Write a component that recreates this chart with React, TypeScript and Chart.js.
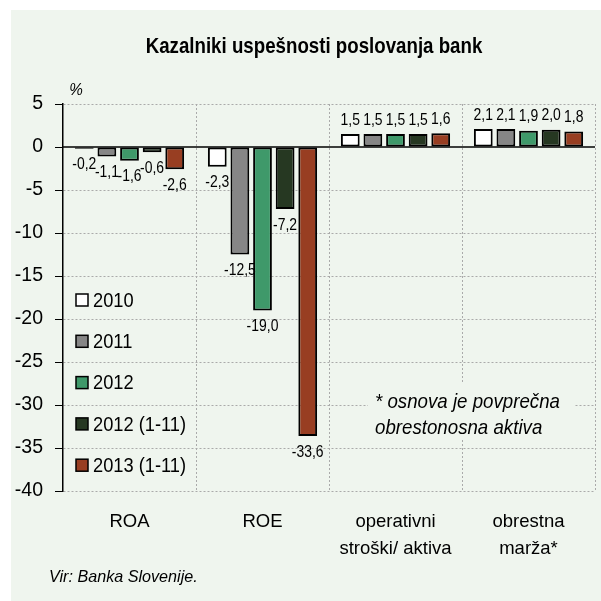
import React, { useEffect, useRef } from "react";
import { Chart, registerables } from "chart.js";

Chart.register(...registerables);

const categories: (string | string[])[] = ["ROA", "ROE", ["operativni", "stroški/ aktiva"], ["obrestna", "marža*"]];
const seriesNames = ["2010", "2011", "2012", "2012 (1-11)", "2013 (1-11)"];
const values2010 = [-0.2, -2.3, 1.5, 2.1];
const values2011 = [-1.1, -12.5, 1.5, 2.1];
const values2012 = [-1.6, -19.0, 1.5, 1.9];
const values2012p = [-0.6, -7.2, 1.5, 2.0];
const values2013p = [-2.6, -33.6, 1.6, 1.8];
const seriesColors = ["#ffffff", "#868686", "#3f996a", "#263822", "#983e22"];
const yMin = -40;
const yMax = 5;
const yStep = 5;

const titleText = "Kazalniki uspešnosti poslovanja bank";
const unitText = "%";
const noteLines = ["* osnova je povprečna", "obrestonosna aktiva"];
const sourceText = "Vir: Banka Slovenije.";

const FONT = "'Liberation Sans', Arial, sans-serif";
const BG = "#eff5ee";

function drawText(ctx: CanvasRenderingContext2D, text: string, x: number, y: number, font: string, sx: number, align: CanvasTextAlign) {
  ctx.save();
  ctx.font = font;
  ctx.textAlign = align;
  ctx.textBaseline = "middle";
  ctx.fillStyle = "#000";
  ctx.translate(x, y);
  ctx.scale(sx, 1);
  ctx.fillText(text, 0, 0);
  ctx.restore();
}

export default function App() {
  const ref = useRef<HTMLCanvasElement | null>(null);

  useEffect(() => {
    if (!ref.current) return;
    const allValues = [values2010, values2011, values2012, values2012p, values2013p];

    const extras = {
      id: "extras",
      beforeDatasetsDraw(chart: any) {
        const ctx = chart.ctx;
        const ca = chart.chartArea;
        const y0 = chart.scales.y.getPixelForValue(0);
        ctx.save();
        ctx.strokeStyle = "#000";
        ctx.lineWidth = 1.5;
        ctx.beginPath();
        ctx.moveTo(ca.left, y0);
        ctx.lineTo(ca.right, y0);
        ctx.stroke();
        ctx.restore();
      },
      afterDatasetsDraw(chart: any) {
        const ctx = chart.ctx;
        chart.data.datasets.forEach((ds: any, di: number) => {
          const meta = chart.getDatasetMeta(di);
          meta.data.forEach((el: any, i: number) => {
            const v = ds.data[i];
            const txt = v.toFixed(1).replace(".", ",");
            const y = v < 0 ? el.y + 16 : el.y - 14;
            drawText(ctx, txt, el.x, y, `17px ${FONT}`, 0.82, "center");
          });
        });
      },
      afterDraw(chart: any) {
        const ctx = chart.ctx;
        drawText(ctx, titleText, 303, 37, `bold 22px ${FONT}`, 0.85, "center");
        drawText(ctx, unitText, 65, 80, `italic 17px ${FONT}`, 0.9, "center");
        // legend
        seriesNames.forEach((name, i) => {
          const cy = 290 + i * 41.3;
          ctx.save();
          ctx.fillStyle = seriesColors[i];
          ctx.fillRect(65, cy - 6, 12, 12);
          ctx.strokeStyle = "#000";
          ctx.lineWidth = 1.5;
          ctx.strokeRect(65, cy - 6, 12, 12);
          ctx.restore();
          drawText(ctx, name, 82, cy + 1, `21px ${FONT}`, 0.87, "left");
        });
        // note
        ctx.save();
        ctx.fillStyle = BG;
        ctx.fillRect(357, 373, 207, 57);
        ctx.restore();
        drawText(ctx, noteLines[0], 364, 392, `italic 21px ${FONT}`, 0.89, "left");
        drawText(ctx, noteLines[1], 364, 418, `italic 21px ${FONT}`, 0.89, "left");
        // source
        drawText(ctx, sourceText, 38, 567, `italic 17px ${FONT}`, 0.95, "left");
      },
    };

    const chart = new Chart(ref.current, {
      type: "bar",
      data: {
        labels: categories,
        datasets: seriesNames.map((name, i) => ({
          label: name,
          data: allValues[i],
          backgroundColor: seriesColors[i],
          borderColor: "#000",
          borderWidth: 2,
          borderSkipped: false,
          categoryPercentage: 0.85,
          barPercentage: 0.83,
        })),
      },
      options: {
        animation: false,
        responsive: true,
        maintainAspectRatio: false,
        layout: { padding: { top: 94, left: 0, right: 6, bottom: 0 } },
        plugins: {
          legend: { display: false },
          title: { display: false },
          tooltip: { enabled: false },
        },
        scales: {
          x: {
            offset: true,
            grid: {
              offset: true,
              drawTicks: false,
              color: (c: any) => (c.index === 0 ? "rgba(0,0,0,0)" : "#aaaaaa"),
              lineWidth: 1,
            },
            border: { display: false, dash: [2, 2] },
            ticks: {
              color: "#000",
              font: { family: FONT, size: 18.5, lineHeight: 1.46 },
              padding: 17,
              maxRotation: 0,
              autoSkip: false,
            },
            afterFit: (s: any) => {
              s.height = 110;
            },
          },
          y: {
            min: yMin,
            max: yMax,
            grid: {
              color: (c: any) => (c.tick && c.tick.value === 0 ? "rgba(0,0,0,0)" : "#aaaaaa"),
              lineWidth: 1,
              tickColor: "#000",
              tickLength: 8,
              tickWidth: 1,
            },
            border: { display: true, color: "#000", width: 1.5, dash: [2, 2] },
            ticks: {
              stepSize: yStep,
              color: "#000",
              font: { family: FONT, size: 19.5 },
              padding: 12,
              callback: (v: any) => String(v),
            },
            afterFit: (s: any) => {
              s.width = 52;
            },
          },
        },
      },
      plugins: [extras],
    });
    return () => chart.destroy();
  }, []);

  return (
    <div style={{ position: "absolute", left: 0, top: 0, width: 601, height: 601, background: "#fff" }}>
      <div style={{ position: "absolute", left: 11, top: 10, width: 590, height: 591, background: BG }}>
        <canvas ref={ref} />
      </div>
    </div>
  );
}
